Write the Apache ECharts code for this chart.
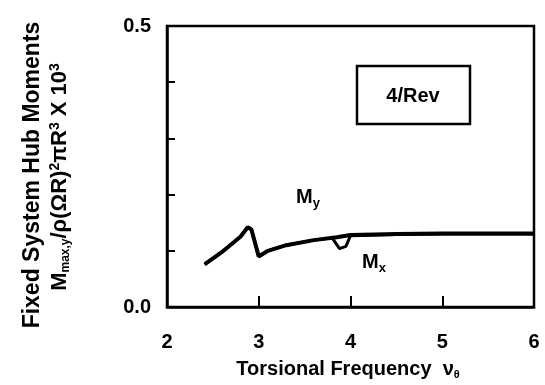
<!DOCTYPE html>
<html><head><meta charset="utf-8">
<script src="https://cdn.jsdelivr.net/npm/echarts@6/dist/echarts.min.js"></script>
<style>html,body{margin:0;padding:0;background:#fff}#c{width:545px;height:385px}</style>
</head><body><div id="c"></div>
<script>
const xTicks = [2, 3, 4, 5, 6];
const yTickLabels = ['0.0', '0.5'];
const myX = [2.41, 2.6, 2.8, 2.88, 2.92, 3.0, 3.1, 3.3, 3.6, 3.85, 4.0, 4.5, 5.0, 5.5, 6.0];
const myY = [0.076, 0.098, 0.125, 0.142, 0.138, 0.090, 0.100, 0.110, 0.119, 0.124, 0.128, 0.130, 0.131, 0.131, 0.131];
const mxX = [2.41, 2.6, 2.8, 2.88, 2.92, 3.0, 3.1, 3.3, 3.6, 3.8, 3.88, 3.95, 4.0, 4.5, 5.0, 5.5, 6.0];
const mxY = [0.076, 0.098, 0.125, 0.142, 0.138, 0.090, 0.100, 0.110, 0.119, 0.123, 0.104, 0.108, 0.127, 0.129, 0.130, 0.130, 0.130];

const chart = echarts.init(document.getElementById('c'));
const F = 'Liberation Sans, Arial, sans-serif';
chart.setOption({
  animation: false,
  grid: {left: 167, right: 11, top: 26, bottom: 78, show: true, borderColor: '#000', borderWidth: 2.5, backgroundColor: 'transparent'},
  xAxis: {type: 'value', min: 2, max: 6, interval: 1,
    axisLine: {show: true, lineStyle: {color: '#000', width: 2.5}},
    axisTick: {show: true, inside: true, length: 11, lineStyle: {color: '#000', width: 2}},
    splitLine: {show: false},
    axisLabel: {color: '#000', fontFamily: F, fontWeight: 'bold', fontSize: 20, margin: 25,
      formatter: v => xTicks.includes(v) ? String(v) : ''}},
  yAxis: {type: 'value', min: 0, max: 0.5, interval: 0.1,
    axisLine: {show: true, lineStyle: {color: '#000', width: 2.5}},
    axisTick: {show: true, inside: true, length: 8, lineStyle: {color: '#000', width: 2}},
    splitLine: {show: false},
    axisLabel: {color: '#000', fontFamily: F, fontWeight: 'bold', fontSize: 20, margin: 16,
      formatter: v => { const s = v.toFixed(1); return yTickLabels.includes(s) ? s : ''; }}},
  series: [
    {type: 'line', name: 'My', data: myX.map((x, i) => [x, myY[i]]), showSymbol: false, lineStyle: {color: '#000', width: 4}},
    {type: 'line', name: 'Mx', data: mxX.map((x, i) => [x, mxY[i]]), showSymbol: false, lineStyle: {color: '#000', width: 3}}
  ],
  graphic: [
    {type: 'rect', shape: {x: 357, y: 66, width: 113, height: 58}, style: {fill: '#fff', stroke: '#000', lineWidth: 2.5}},
    {type: 'text', x: 413, y: 96, style: {text: '4/Rev', font: 'bold 20px ' + F, fill: '#000', align: 'center', verticalAlign: 'middle'}},
    {type: 'text', x: 296, y: 185, style: {text: '{m|M}{s|y}', rich: {m: {font: 'bold 20px ' + F, fill: '#000'}, s: {font: 'bold 13px ' + F, fill: '#000', verticalAlign: 'bottom', padding: [12, 0, 0, 0]}}}},
    {type: 'text', x: 362, y: 250, style: {text: '{m|M}{s|x}', rich: {m: {font: 'bold 20px ' + F, fill: '#000'}, s: {font: 'bold 13px ' + F, fill: '#000', verticalAlign: 'bottom', padding: [12, 0, 0, 0]}}}},
    {type: 'text', x: 348, y: 369, style: {text: '{t|Torsional Frequency  ν}{s|θ}', align: 'center', verticalAlign: 'middle', rich: {t: {font: 'bold 20px ' + F, fill: '#000'}, s: {font: 'bold 11px ' + F, fill: '#000', padding: [11, 0, 0, 0]}}}},
    {type: 'text', x: 33, y: 175, rotation: Math.PI / 2, style: {text: 'Fixed System Hub Moments', font: 'bold 23px ' + F, fill: '#000', align: 'center', verticalAlign: 'middle'}},
    {type: 'text', x: 60, y: 177, rotation: Math.PI / 2, style: {text: '{m|M}{s|max,y}{m|/ρ(ΩR)}{p|2}{m|πR}{p|3}{m| X 10}{p|3}', align: 'center', verticalAlign: 'middle',
      rich: {m: {font: 'bold 22px ' + F, fill: '#000'}, s: {font: 'bold 12px ' + F, fill: '#000', padding: [12, 0, 0, 0]}, p: {font: 'bold 14px ' + F, fill: '#000', padding: [0, 0, 9, 0]}}}}
  ]
});
</script></body></html>
